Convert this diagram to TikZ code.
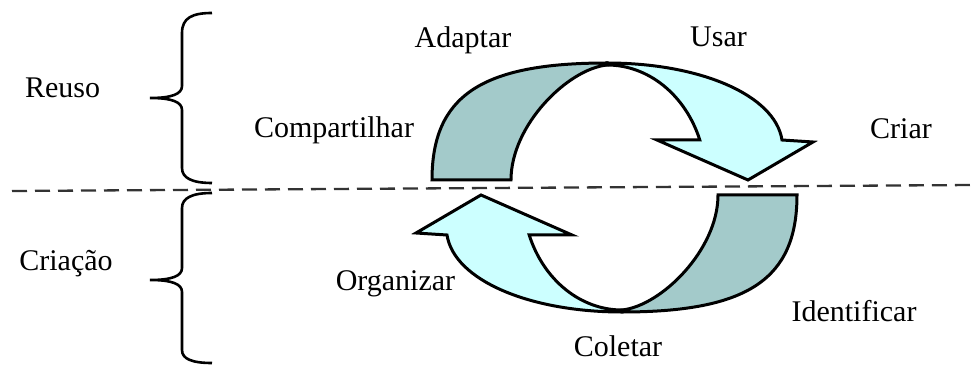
\documentclass[tikz,border=0pt]{standalone}
\usepackage{fontspec}
\setmainfont{Liberation Serif}
\begin{document}
\begin{tikzpicture}[x=1pt,y=1pt,
  lbl/.style={anchor=base,inner sep=0pt,font=\fontsize{30}{32}\selectfont},
  darkband/.style={fill=darkteal,draw=black,line width=3pt,line join=miter},
  lightband/.style={fill=lightcyan,draw=black,line width=3pt,line join=miter},
  bracestyle/.style={draw=black,line width=2.6pt},
  sepline/.style={draw=black!80,line width=2.3pt,dash pattern=on 15pt off 8pt}]
\definecolor{darkteal}{RGB}{163,202,202}
\definecolor{lightcyan}{RGB}{204,255,255}
\useasboundingbox (0,0) rectangle (974,366);
\fill[white] (0,0) rectangle (974,366);
% dashed separator
\coordinate (sepL) at (12,175);
\coordinate (sepR) at (974,181);
\draw[sepline] (sepL) -- (sepR);
% top cycle half
\begin{scope}
\path[darkband] (432,186) .. controls (432,270) and (481,303) .. (607,303)
  -- (607,301) .. controls (568,297) and (511,241) .. (511,186) -- cycle;
\path[lightband] (607,303) .. controls (700,303) and (775,271) .. (782,226)
  -- (813,224) -- (748,186) -- (657,226) -- (699.8,226)
  arc[start angle=20.35,end angle=90,x radius=99,y radius=115] -- cycle;
\end{scope}
% bottom cycle half
\begin{scope}[rotate around={180:(614.5,178.5)}]
\path[darkband] (432,186) .. controls (432,270) and (481,303) .. (607,303)
  -- (607,301) .. controls (568,297) and (511,241) .. (511,186) -- cycle;
\path[lightband] (607,303) .. controls (700,303) and (775,271) .. (782,226)
  -- (813,224) -- (748,186) -- (657,226) -- (699.8,226)
  arc[start angle=20.35,end angle=90,x radius=99,y radius=115] -- cycle;
\end{scope}
% braces
\draw[bracestyle] (212,353) .. controls (192,353) and (182,348) .. (182,333) -- (182,280)
  .. controls (182,272) and (172,268) .. (150,268) .. controls (172,268) and (182,264) .. (182,256)
  -- (182,198) .. controls (182,188) and (192,183) .. (212,183);
\draw[bracestyle] (212,173) .. controls (192,173) and (182,168) .. (182,158) -- (182,98)
  .. controls (182,90) and (172,86) .. (150,86) .. controls (172,86) and (182,82) .. (182,74)
  -- (182,16) .. controls (182,7) and (192,3) .. (212,3);
% labels
\node[lbl] (reuso) at (62.5,268) {Reuso};
\node[lbl] (criacao) at (66,95) {Criação};
\node[lbl] (compartilhar) at (334,228) {Compartilhar};
\node[lbl] (adaptar) at (463,318) {Adaptar};
\node[lbl] (usar) at (718.5,319) {Usar};
\node[lbl] (criar) at (901,227) {Criar};
\node[lbl] (organizar) at (395.5,75) {Organizar};
\node[lbl] (identificar) at (854,44) {Identificar};
\node[lbl] (coletar) at (618,9) {Coletar};
\end{tikzpicture}
\end{document}
